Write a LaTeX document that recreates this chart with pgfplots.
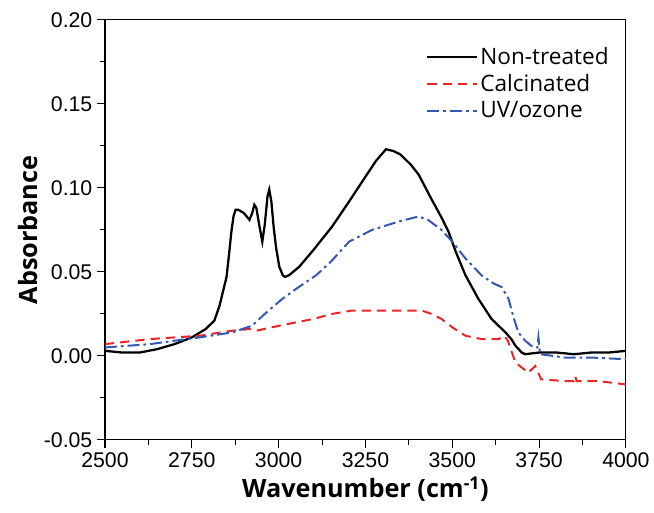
\documentclass[border=0pt]{standalone}
\usepackage{fontspec}
\setmainfont{Liberation Sans}
\newfontfamily\myr{Open Sans}
\usepackage{pgfplots}
\pgfplotsset{compat=1.18}
\definecolor{myred}{RGB}{232,38,40}
\definecolor{myblue}{RGB}{52,88,178}
\begin{document}
\begin{tikzpicture}
\begin{axis}[
  name=ax,
  width=392pt, height=316pt, scale only axis,
  xmin=2500, xmax=4000, ymin=-0.05, ymax=0.20,
  xtick={2500,2750,...,4000}, ytick={-0.05,0,...,0.20},
  minor x tick num=1, minor y tick num=1,
  xtick pos=bottom, ytick pos=left, tick align=outside,
  major tick length=6pt, minor tick length=3.5pt,
  every tick/.style={black, line width=0.8pt},
  axis line style={line width=0.8pt},
  /pgf/number format/assume math mode=true,
  x tick label style={/pgf/number format/1000 sep={}, font=\fontsize{16}{18}\selectfont},
  y tick label style={/pgf/number format/.cd, fixed, fixed zerofill, precision=2, /tikz/.cd, font=\fontsize{16}{18}\selectfont},
  scaled y ticks=false,
  xlabel={\myr\bfseries Wavenumber (cm\textsuperscript{-1})},
  ylabel={\myr\bfseries Absorbance},
  label style={font=\fontsize{19}{22}\selectfont},
  xlabel style={at={(axis description cs:0.5,-0.117)}, anchor=center},
  ylabel style={at={(axis description cs:-0.148,0.5)}, anchor=center},
  legend style={draw=none, fill=none, at={(0.975,0.945)}, anchor=north east, font=\myr\fontsize{17}{20}\selectfont, row sep=2pt, inner sep=1pt},
  legend cell align=left,
  legend image code/.code={\draw[#1] (0pt,0pt) -- (37pt,0pt);},
]
\addplot[black, line width=1.7pt] coordinates {
(2500,0.003) (2550,0.002) (2600,0.002) (2650,0.004) (2700,0.007) (2750,0.011)
(2790,0.016) (2815,0.021) (2830,0.030) (2850,0.047) (2858,0.062) (2864,0.074) (2870,0.083) (2876,0.087)
(2884,0.087) (2900,0.085) (2916,0.081) (2924,0.085) (2930,0.090) (2936,0.088) (2944,0.078) (2953,0.068)
(2960,0.078) (2968,0.095) (2973,0.099) (2979,0.092) (2986,0.076) (2993,0.064) (3002,0.053) (3012,0.048) (3018,0.047)
(3030,0.048) (3059,0.053) (3100,0.063) (3154,0.077) (3200,0.091) (3251,0.107)
(3280,0.116) (3309,0.123) (3330,0.122) (3350,0.120) (3380,0.114) (3403,0.108)
(3441,0.093) (3470,0.082) (3489,0.074) (3510,0.062) (3538,0.048) (3575,0.034)
(3613,0.022) (3653,0.014) (3670,0.010) (3682,0.006) (3700,0.002) (3710,0.001)
(3750,0.002) (3800,0.002) (3850,0.001) (3900,0.002) (3950,0.002) (4000,0.003)
};
\addlegendentry{Non-treated}
\addplot[myred, line width=1.5pt, dash pattern=on 7pt off 4.5pt] coordinates {
(2500,0.007) (2629,0.010) (2772,0.012) (2867,0.015) (2916,0.016) (2936,0.015)
(2980,0.017) (3051,0.020) (3100,0.022) (3154,0.025) (3211,0.027) (3297,0.027)
(3346,0.027) (3412,0.027) (3440,0.025) (3469,0.022) (3500,0.017) (3538,0.012)
(3584,0.010) (3633,0.010) (3650,0.012) (3660,0.009) (3682,-0.004) (3719,-0.010)
(3739,-0.006) (3756,-0.014) (3825,-0.015) (3850,-0.015) (3854,-0.012) (3858,-0.015)
(3920,-0.015) (4000,-0.017)
};
\addlegendentry{Calcinated}
\addplot[myblue, line width=1.5pt, dash pattern=on 9pt off 3pt on 2pt off 3pt] coordinates {
(2500,0.005) (2629,0.007) (2700,0.009) (2772,0.011) (2867,0.014) (2924,0.018)
(2960,0.025) (3011,0.034) (3051,0.040) (3108,0.048) (3150,0.056) (3203,0.068)
(3269,0.075) (3346,0.080) (3403,0.083) (3430,0.081) (3469,0.075) (3500,0.068)
(3538,0.058) (3584,0.048) (3620,0.043) (3642,0.041) (3662,0.034) (3675,0.024)
(3690,0.014) (3710,0.009) (3728,0.006) (3745,0.005) (3748,0.011) (3753,0.001)
(3825,-0.001) (3900,-0.001) (4000,-0.002)
};
\addlegendentry{UV/ozone}
\end{axis}
\path ([shift={(-79pt,-55pt)}]ax.south west) rectangle ([shift={(19.5pt,15pt)}]ax.north east);
\end{tikzpicture}
\end{document}
